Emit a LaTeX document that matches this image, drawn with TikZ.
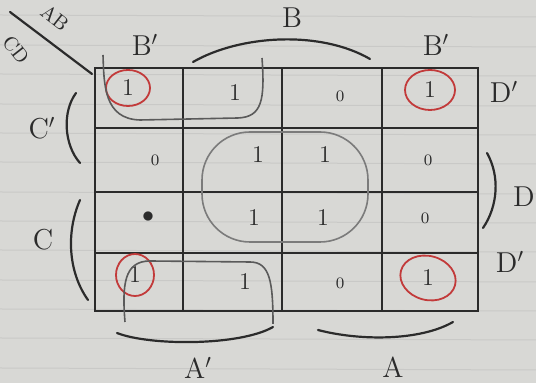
\documentclass[tikz,border=0pt]{standalone}
\usepackage{tikz}
\usepackage{xcolor}
\definecolor{paper}{HTML}{D8D8D5}
\definecolor{rulec}{HTML}{C9C9C7}
\definecolor{ink}{HTML}{2B2B2B}
\definecolor{pencil}{HTML}{5A5A5A}
\definecolor{redpen}{HTML}{C23A3A}

\begin{document}
\begin{tikzpicture}[x=0.5pt, y=-0.5pt, every node/.style={text=ink},
      cell/.style={font=\large}, zero/.style={font=\footnotesize},
      lbl/.style={font=\Large}, grid/.style={draw=ink, line width=1.4pt},
      loop/.style={draw=pencil, line width=0.8pt},
      circ/.style={draw=redpen, line width=0.9pt},
      brk/.style={draw=ink, line width=1.1pt, line cap=round}]
    % paper
    \fill[paper] (0,0) rectangle (536,383);
    \useasboundingbox (0,0) rectangle (536,383);
    \foreach \y in {15,45,74,104,133,162,192,221,250,280,309,338,368}
      \draw[rulec, line width=0.5pt] (0,\y) -- (536,\y+2);
    % the map
    \draw[grid] (95,68) rectangle (478,311);
    \foreach \x in {183,282,382}
      \draw[grid] (\x,68) -- (\x,311);
    \foreach \y in {128,192,253}
      \draw[grid] (95,\y) -- (478,\y);
    \draw[brk] (10,12) -- (92,74);
    \node[font=\normalsize, rotate=-38, inner sep=0pt] (ab) at (55,18) {AB};
    \node[font=\normalsize, rotate=-52, inner sep=0pt] (cd) at (16,50) {CD};
    % cells
    \node[cell] (c11) at (128,88)  {1};
    \node[cell] (c12) at (235,93)  {1};
    \node[zero] (c13) at (340,96)  {0};
    \node[cell] (c14) at (430,90)  {1};
    \node[zero] (c21) at (155,160) {0};
    \node[cell] (c22) at (258,155) {1};
    \node[cell] (c23) at (325,155) {1};
    \node[zero] (c24) at (428,160) {0};
    \node[cell] (c31) at (148,217) {$\bullet$};
    \node[cell] (c32) at (254,218) {1};
    \node[cell] (c33) at (323,218) {1};
    \node[zero] (c34) at (425,218) {0};
    \node[cell] (c41) at (135,275) {1};
    \node[cell] (c42) at (245,282) {1};
    \node[zero] (c43) at (340,283) {0};
    \node[cell] (c44) at (428,278) {1};
    % groups
    \draw[circ] (c11) ellipse [x radius=22, y radius=18];
    \draw[circ] (c14) ellipse [x radius=25, y radius=20];
    \draw[circ] (c41) ellipse [x radius=19, y radius=21];
    \draw[circ, rotate around={-15:(c44)}] (c44) ellipse [x radius=28, y radius=22];
    \draw[loop] (103,55) .. controls (104,85) and (104,119) .. (140,120)
      -- (238,118) .. controls (262,117) and (265,100) .. (262,58);
    \draw[loop] (125,322) .. controls (122,285) and (124,261) .. (150,261)
      -- (250,262) .. controls (270,262) and (273,282) .. (273,324);
    \draw[loop, draw=pencil!80, rounded corners=24pt] (202,132) rectangle (368,242);
    % brackets and labels
    \draw[brk] (193,62) .. controls (240,35) and (320,30) .. (370,59);
    \draw[brk] (117,333) .. controls (150,346) and (240,346) .. (273,327);
    \draw[brk] (318,330) .. controls (360,341) and (420,341) .. (453,322);
    \draw[brk] (76,93) .. controls (62,112) and (64,145) .. (80,163);
    \draw[brk] (80,200) .. controls (66,232) and (68,272) .. (88,300);
    \draw[brk] (487,153) .. controls (500,176) and (498,206) .. (483,228);
    \node[lbl] (bl) at (145,45)  {B$'$};
    \node[lbl] (bt) at (292,18)  {B};
    \node[lbl] (br) at (436,45)  {B$'$};
    \node[lbl] (cn) at (42,128)  {C$'$};
    \node[lbl] (cy) at (43,240)  {C};
    \node[lbl] (dt) at (504,92)  {D$'$};
    \node[lbl] (dy) at (524,197) {D};
    \node[lbl] (db) at (510,262) {D$'$};
    \node[lbl] (an) at (198,368) {A$'$};
    \node[lbl] (ay) at (393,367) {A};
  \end{tikzpicture}
\end{document}
